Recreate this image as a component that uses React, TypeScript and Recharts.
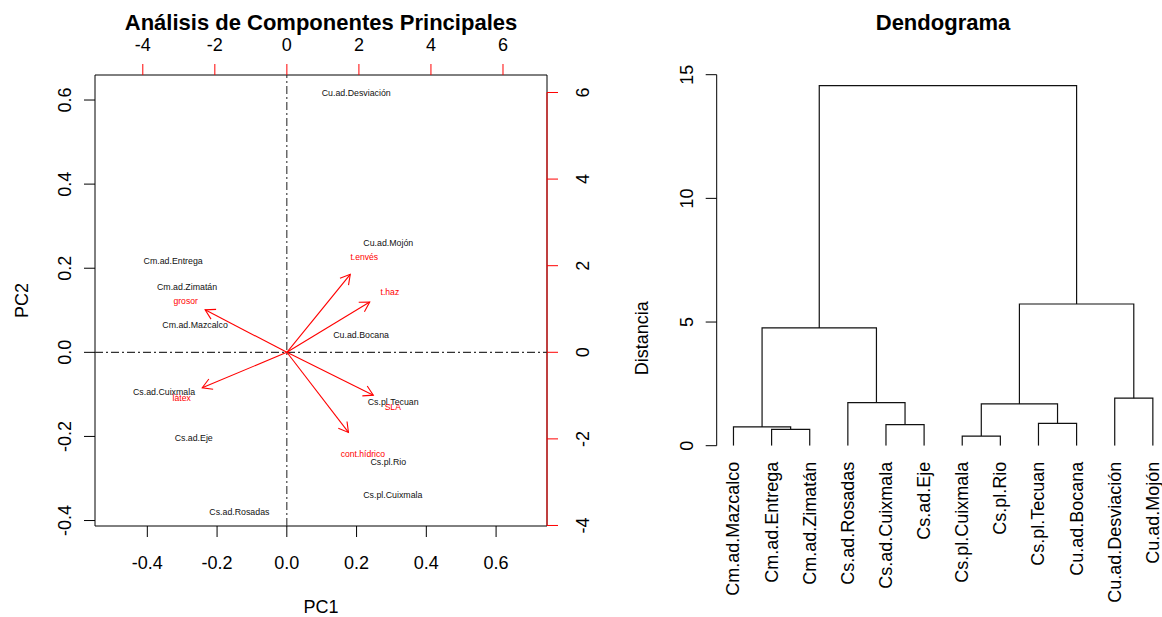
import React from "react";
import {
  ScatterChart,
  Scatter,
  XAxis,
  YAxis,
  ReferenceLine,
  ReferenceArea,
} from "recharts";

const FONT = "'Liberation Sans', Arial, Helvetica, sans-serif";
const RED = "#ff0000";

// PCA site scores (PC1 / PC2)
const siteNames = [
  "Cu.ad.Desviación",
  "Cu.ad.Mojón",
  "Cm.ad.Entrega",
  "Cm.ad.Zimatán",
  "Cm.ad.Mazcalco",
  "Cu.ad.Bocana",
  "Cs.ad.Cuixmala",
  "Cs.pl.Tecuan",
  "Cs.ad.Eje",
  "Cs.pl.Rio",
  "Cs.pl.Cuixmala",
  "Cs.ad.Rosadas",
];
const pc1 = [0.199, 0.291, -0.326, -0.286, -0.263, 0.213, -0.352, 0.305, -0.267, 0.291, 0.304, -0.136];
const pc2 = [0.616, 0.261, 0.216, 0.156, 0.066, 0.042, -0.094, -0.118, -0.203, -0.26, -0.339, -0.38];

// variable loadings (top / right scale): arrow tips and label spots
const varNames = ["grosor", "t.envés", "t.haz", "látex", "SLA", "cont.hídrico"];
const arrowX = [-2.27, 1.76, 2.3, -2.35, 2.4, 1.71];
const arrowY = [0.98, 1.8, 1.16, -0.82, -0.99, -1.85];
const varLabelX = [-2.81, 2.15, 2.86, -2.92, 2.94, 2.11];
const varLabelY = [1.18, 2.21, 1.4, -1.06, -1.27, -2.35];

const pcTicks = [-0.4, -0.2, 0, 0.2, 0.4, 0.6];
const varTicks = [-4, -2, 0, 2, 4, 6];

// hclust result, leaves in plotting order
const leafNames = [
  "Cm.ad.Mazcalco",
  "Cm.ad.Entrega",
  "Cm.ad.Zimatán",
  "Cs.ad.Rosadas",
  "Cs.ad.Cuixmala",
  "Cs.ad.Eje",
  "Cs.pl.Cuixmala",
  "Cs.pl.Rio",
  "Cs.pl.Tecuan",
  "Cu.ad.Bocana",
  "Cu.ad.Desviación",
  "Cu.ad.Mojón",
];
// negative = leaf position, positive = earlier merge (1-based)
const mergeA = [-7, -2, -1, -5, -9, 1, -4, -11, 3, 6, 9];
const mergeB = [-8, -3, 2, -6, -10, 5, 4, -12, 7, 8, 10];
const mergeHeight = [0.39, 0.66, 0.76, 0.85, 0.9, 1.69, 1.74, 1.92, 4.76, 5.73, 14.56];
const distTicks = [0, 5, 10, 15];

const PC_X: [number, number] = [-0.55, 0.746];
const PC_Y: [number, number] = [-0.413, 0.6595];
const VAR_X: [number, number] = [-5.327, 7.222];
const VAR_Y: [number, number] = [-4.012, 6.404];

const siteData = siteNames.map((name, i) => ({ name, x: pc1[i], y: pc2[i] }));
const varData = varNames.map((name, i) => ({ name, x: varLabelX[i], y: varLabelY[i] }));

// x of each merge is the midpoint of its two children
const nodeX: number[] = [];
const nodeH: number[] = [];
const nodePos = (ref: number) =>
  ref < 0 ? { x: -ref, h: 0 } : { x: nodeX[ref - 1], h: nodeH[ref - 1] };
const branches = mergeHeight.map((h, k) => {
  const a = nodePos(mergeA[k]);
  const b = nodePos(mergeB[k]);
  nodeX[k] = (a.x + b.x) / 2;
  nodeH[k] = h;
  return [
    { x: a.x, y: a.h },
    { x: a.x, y: h },
    { x: b.x, y: h },
    { x: b.x, y: b.h },
  ];
});

const tickText = { fontFamily: FONT, fontSize: 18, fill: "#000" };

const HTick = (p: any, digits: number) => (
  <text x={p.x} y={p.y} textAnchor="middle" dominantBaseline="central" style={tickText}>
    {Number(p.payload.value).toFixed(digits)}
  </text>
);

const VTick = (p: any, digits: number) => (
  <text
    x={p.x}
    y={p.y}
    transform={`rotate(-90 ${p.x} ${p.y})`}
    textAnchor="middle"
    dominantBaseline="central"
    style={tickText}
  >
    {Number(p.payload.value).toFixed(digits)}
  </text>
);

const LeafTick = (p: any) => (
  <text
    x={p.x}
    y={p.y}
    transform={`rotate(-90 ${p.x} ${p.y})`}
    textAnchor="end"
    dominantBaseline="central"
    style={tickText}
  >
    {leafNames[Math.round(p.payload.value) - 1]}
  </text>
);

const Empty = () => <g />;

const SiteLabel = (p: any) => (
  <text
    x={p.cx}
    y={p.cy}
    textAnchor="middle"
    dominantBaseline="central"
    style={{ fontFamily: FONT, fontSize: 8.8, fill: "#111" }}
  >
    {p.payload.name}
  </text>
);

const VarLabel = (p: any) => (
  <text
    x={p.cx}
    y={p.cy}
    textAnchor="middle"
    dominantBaseline="central"
    style={{ fontFamily: FONT, fontSize: 8.6, fill: RED }}
  >
    {p.payload.name}
  </text>
);

// arrow shaft + open head, like R's arrows(length = 0.1)
const ArrowLine = (p: any) => {
  const pts = p.points;
  if (!pts || pts.length < 2) return <g />;
  const [a, b] = pts;
  const ang = Math.atan2(b.y - a.y, b.x - a.x);
  const len = 11;
  const spread = Math.PI / 6;
  const h1 = [b.x - len * Math.cos(ang - spread), b.y - len * Math.sin(ang - spread)];
  const h2 = [b.x - len * Math.cos(ang + spread), b.y - len * Math.sin(ang + spread)];
  return (
    <g stroke={RED} strokeWidth={1.1} fill="none">
      <line x1={a.x} y1={a.y} x2={b.x} y2={b.y} />
      <polyline points={`${h1[0]},${h1[1]} ${b.x},${b.y} ${h2[0]},${h2[1]}`} />
    </g>
  );
};

const axisTitle = { fontFamily: FONT, fontSize: 18, fill: "#000" };

const title: React.CSSProperties = {
  position: "absolute",
  top: 12,
  fontFamily: FONT,
  fontWeight: "bold",
  fontSize: 22,
  lineHeight: "22px",
  textAlign: "center",
  whiteSpace: "nowrap",
  color: "#000",
};

export default function App() {
  return (
    <div
      style={{
        position: "absolute",
        left: 0,
        top: 0,
        width: 1162,
        height: 617,
        background: "#fff",
        overflow: "hidden",
      }}
    >
      <div style={{ ...title, left: 0, width: 642 }}>Análisis de Componentes Principales</div>
      <div style={{ ...title, left: 724, width: 438 }}>Dendograma</div>

      <div style={{ position: "absolute", left: 0, top: 0 }}>
        <ScatterChart width={600} height={617} margin={{ top: 30, right: 8, bottom: 41, left: 50 }}>
          <XAxis
            xAxisId="pc"
            dataKey="x"
            type="number"
            orientation="bottom"
            domain={PC_X}
            ticks={pcTicks}
            interval={0}
            allowDataOverflow
            height={50}
            axisLine={false}
            stroke="#000"
            tickSize={11}
            tickMargin={25.6}
            tick={(p: any) => HTick(p, 1)}
            label={{
              content: (l: any) => (
                <text
                  x={l.viewBox.x + l.viewBox.width / 2}
                  y={l.viewBox.y + 80.7}
                  textAnchor="middle"
                  dominantBaseline="central"
                  style={axisTitle}
                >
                  PC1
                </text>
              ),
            }}
          />
          <XAxis
            xAxisId="var"
            dataKey="x"
            type="number"
            orientation="top"
            domain={VAR_X}
            ticks={varTicks}
            interval={0}
            allowDataOverflow
            height={45}
            axisLine={false}
            stroke={RED}
            tickLine={{ stroke: RED }}
            tickSize={11}
            tickMargin={19}
            tick={(p: any) => HTick(p, 0)}
          />
          <YAxis
            yAxisId="pc"
            dataKey="y"
            type="number"
            orientation="left"
            domain={PC_Y}
            ticks={pcTicks}
            interval={0}
            allowDataOverflow
            width={45}
            axisLine={false}
            stroke="#000"
            tickSize={11}
            tickMargin={19}
            tick={(p: any) => VTick(p, 1)}
            label={{
              content: (l: any) => {
                const x = l.viewBox.x + l.viewBox.width - 73.3;
                const y = l.viewBox.y + l.viewBox.height / 2;
                return (
                  <text
                    x={x}
                    y={y}
                    transform={`rotate(-90 ${x} ${y})`}
                    textAnchor="middle"
                    dominantBaseline="central"
                    style={axisTitle}
                  >
                    PC2
                  </text>
                );
              },
            }}
          />
          <YAxis
            yAxisId="var"
            dataKey="y"
            type="number"
            orientation="right"
            domain={VAR_Y}
            ticks={varTicks}
            interval={0}
            allowDataOverflow
            width={45}
            axisLine={false}
            stroke={RED}
            tickLine={{ stroke: RED }}
            tickSize={11}
            tickMargin={25}
            tick={(p: any) => VTick(p, 0)}
          />

          <ReferenceArea
            xAxisId="pc"
            yAxisId="pc"
            x1={PC_X[0]}
            x2={PC_X[1]}
            y1={PC_Y[0]}
            y2={PC_Y[1]}
            fill="none"
            stroke="#000"
            strokeWidth={1}
            ifOverflow="visible"
          />
          <ReferenceLine
            xAxisId="var"
            yAxisId="var"
            segment={[
              { x: VAR_X[1], y: varTicks[0] },
              { x: VAR_X[1], y: varTicks[varTicks.length - 1] },
            ]}
            stroke={RED}
            ifOverflow="visible"
          />
          <ReferenceLine xAxisId="pc" yAxisId="pc" x={0} stroke="#333" strokeWidth={1.1} strokeDasharray="8 3 2 3" />
          <ReferenceLine xAxisId="pc" yAxisId="pc" y={0} stroke="#333" strokeWidth={1.1} strokeDasharray="8 3 2 3" />

          <Scatter
            data={siteData}
            xAxisId="pc"
            yAxisId="pc"
            shape={SiteLabel}
            isAnimationActive={false}
          />
          {varNames.map((name, i) => (
            <Scatter
              key={name}
              data={[
                { x: 0, y: 0 },
                { x: arrowX[i], y: arrowY[i] },
              ]}
              xAxisId="var"
              yAxisId="var"
              line={ArrowLine}
              shape={Empty}
              isAnimationActive={false}
            />
          ))}
          <Scatter
            data={varData}
            xAxisId="var"
            yAxisId="var"
            shape={VarLabel}
            isAnimationActive={false}
          />
        </ScatterChart>
      </div>

      <div style={{ position: "absolute", left: 620, top: 0, width: 542, height: 617 }}>
        <ScatterChart width={542} height={617} margin={{ top: 74.7, right: 0, bottom: 21.3, left: 36.7 }}>
          <XAxis
            dataKey="x"
            type="number"
            domain={[0.56, 12.24]}
            ticks={leafNames.map((_, i) => i + 1)}
            interval={0}
            allowDataOverflow
            height={150}
            axisLine={false}
            tickLine={false}
            tickSize={0}
            tickMargin={16}
            tick={LeafTick}
          />
          <YAxis
            dataKey="y"
            type="number"
            domain={[0, 15]}
            ticks={distTicks}
            interval={0}
            allowDataOverflow
            width={60}
            stroke="#000"
            tickSize={11}
            tickMargin={19}
            tick={(p: any) => VTick(p, 0)}
            label={{
              content: (l: any) => {
                const x = l.viewBox.x + l.viewBox.width - 74.7;
                const y = l.viewBox.y + l.viewBox.height / 2 + 78;
                return (
                  <text
                    x={x}
                    y={y}
                    transform={`rotate(-90 ${x} ${y})`}
                    textAnchor="middle"
                    dominantBaseline="central"
                    style={axisTitle}
                  >
                    Distancia
                  </text>
                );
              },
            }}
          />
          {branches.map((pts, k) => (
            <Scatter
              key={k}
              data={pts}
              line={{ stroke: "#111", strokeWidth: 1.2 }}
              shape={Empty}
              isAnimationActive={false}
            />
          ))}
        </ScatterChart>
      </div>
    </div>
  );
}
